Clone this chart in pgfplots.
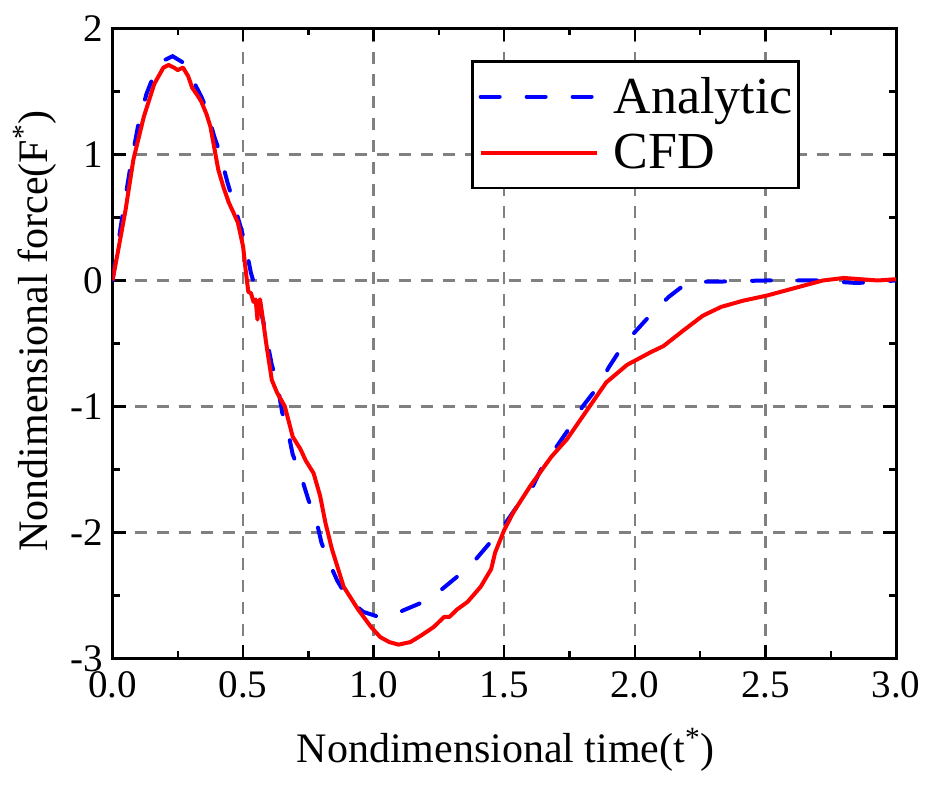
\documentclass[border=0pt]{standalone}
\usepackage{fontspec}
\setmainfont{Liberation Serif}
\usepackage{pgfplots}
\pgfplotsset{compat=1.18}
\usetikzlibrary{calc}
\begin{document}
\begin{tikzpicture}
\begin{axis}[name=ax, scale only axis, width=391.75pt, height=315pt,
  xmin=0, xmax=3, ymin=-3, ymax=2,
  xtick={0,0.5,1,1.5,2,2.5,3},
  xticklabels={0.0,0.5,1.0,1.5,2.0,2.5,3.0},
  ytick={-3,-2,-1,0,1,2},
  yticklabels={-3,-2,-1,0,1,2},
  minor x tick num=1, minor y tick num=1,
  tick align=inside,
  axis line style={line width=1.5pt},
  every tick/.style={black, line width=1.2pt},
  major tick length=6.5pt, minor tick length=3.5pt,
  grid=major,
  major grid style={draw=gray, line width=1.2pt, dash pattern=on 6pt off 5pt},
  xticklabel style={font=\fontsize{19.5}{22}\selectfont, yshift=-3.25pt},
  yticklabel style={font=\fontsize{19.5}{22}\selectfont, xshift=-1pt},
  xlabel={Nondimensional time(t\textsuperscript{*})},
  ylabel={Nondimensional force(F\textsuperscript{*})},
  label style={font=\fontsize{21}{24}\selectfont, inner sep=0pt},
  xlabel style={at={(axis description cs:0.502,-0.110)}, anchor=north},
  ylabel style={at={(axis description cs:-0.071,0.52)}, anchor=south},
  legend style={at={(axis description cs:0.8775,0.950)}, anchor=north east,
    draw=black, line width=1.3pt, fill=white,
    font=\fontsize{26}{28}\selectfont,
    inner xsep=3pt, inner ysep=8pt,
    nodes={inner sep=0pt},
    row sep=9pt, column sep=7.5pt},
  legend cell align=left,
  legend image code/.code={\draw[#1] (0pt,0pt) -- (58pt,0pt);},
]
\addplot[blue, line width=2pt, line cap=round, dash pattern=on 9.5pt off 13.5pt] coordinates {
(0,0) (0.04,0.54) (0.07,0.92) (0.10,1.25) (0.13,1.48) (0.16,1.64) (0.19,1.74)
(0.23,1.78) (0.27,1.73) (0.30,1.62) (0.34,1.46) (0.36,1.36) (0.39,1.14) (0.41,1.02)
(0.44,0.78) (0.46,0.64) (0.49,0.43) (0.51,0.27) (0.53,0.06) (0.55,-0.08) (0.58,-0.35)
(0.61,-0.67) (0.63,-0.81) (0.65,-1.05) (0.67,-1.18) (0.69,-1.38) (0.72,-1.54)
(0.75,-1.74) (0.78,-1.90) (0.80,-2.08) (0.83,-2.24) (0.86,-2.38) (0.88,-2.45)
(0.92,-2.56) (0.96,-2.63) (1.02,-2.67) (1.06,-2.66) (1.10,-2.63) (1.18,-2.56)
(1.25,-2.47) (1.32,-2.35) (1.38,-2.24) (1.45,-2.07) (1.50,-1.94) (1.55,-1.79)
(1.61,-1.63) (1.66,-1.42) (1.70,-1.32) (1.76,-1.14) (1.80,-1.00) (1.86,-0.84)
(1.90,-0.69) (1.95,-0.53) (2.00,-0.41) (2.07,-0.25) (2.13,-0.13) (2.18,-0.05)
(2.22,-0.01) (2.30,-0.01) (2.50,0.0) (2.70,0.0) (2.85,-0.02) (3.0,0.0)
};
\addlegendentry{Analytic}
\addplot[red, line width=2pt, line join=round] coordinates {
(0,0) (0.02,0.22) (0.05,0.56) (0.08,0.96) (0.12,1.30) (0.16,1.56) (0.195,1.69)
(0.215,1.71) (0.235,1.69) (0.25,1.67) (0.27,1.69) (0.29,1.62) (0.305,1.53)
(0.325,1.47) (0.34,1.42) (0.36,1.32) (0.375,1.22) (0.39,1.05) (0.405,0.88)
(0.425,0.74) (0.445,0.62) (0.465,0.53) (0.48,0.46) (0.50,0.27) (0.51,0.08)
(0.52,-0.09) (0.53,-0.10) (0.54,-0.17) (0.548,-0.15) (0.555,-0.31) (0.56,-0.17)
(0.565,-0.15) (0.57,-0.22) (0.59,-0.52) (0.61,-0.79) (0.63,-0.89) (0.66,-1.0)
(0.69,-1.24) (0.72,-1.34) (0.74,-1.43) (0.77,-1.53) (0.795,-1.71) (0.815,-1.92)
(0.84,-2.13) (0.885,-2.43) (0.94,-2.61) (0.99,-2.75) (1.025,-2.83) (1.06,-2.87)
(1.095,-2.89) (1.14,-2.87) (1.18,-2.82) (1.23,-2.75) (1.25,-2.71) (1.27,-2.67)
(1.29,-2.67) (1.32,-2.61) (1.36,-2.55) (1.41,-2.43) (1.45,-2.29) (1.465,-2.16)
(1.50,-1.98) (1.535,-1.84) (1.60,-1.63) (1.68,-1.40) (1.74,-1.26) (1.82,-1.02)
(1.89,-0.81) (1.97,-0.67) (2.06,-0.57) (2.11,-0.52) (2.19,-0.39) (2.26,-0.28)
(2.33,-0.21) (2.415,-0.16) (2.505,-0.12) (2.63,-0.05) (2.72,0.00) (2.80,0.02)
(2.93,0.00) (3.0,0.01)
};
\addlegendentry{CFD}
\end{axis}
\pgfresetboundingbox
\path ($(ax.south west)+(-56.25pt,-64.75pt)$) rectangle ($(ax.north east)+(15.5pt,14.25pt)$);
\end{tikzpicture}
\end{document}
